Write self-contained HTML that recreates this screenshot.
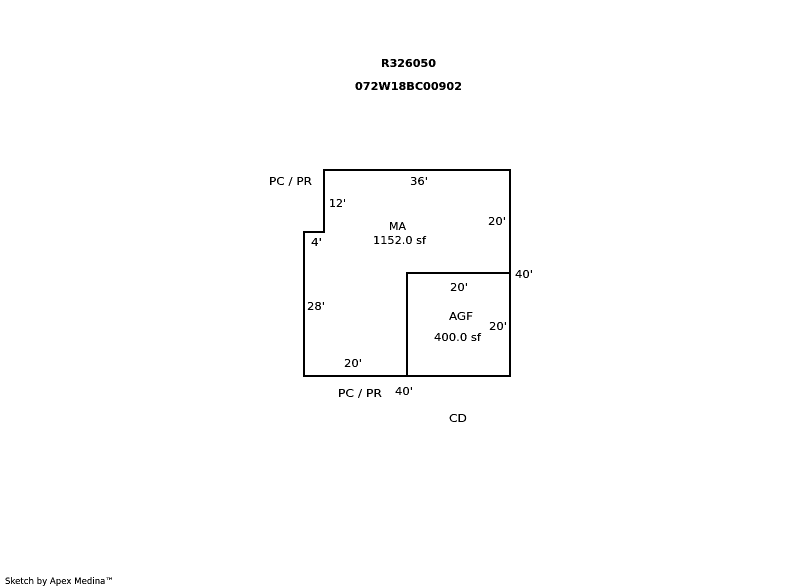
<!DOCTYPE html>
<html>
<head>
<meta charset="utf-8">
<style>
html,body{margin:0;padding:0;background:#fff;width:800px;height:587px;overflow:hidden}
svg{display:block}
text{font-family:"DejaVu Sans","Liberation Sans",sans-serif;font-size:11px;fill:#000}
.b{font-weight:bold}
.f{font-size:9px}
</style>
</head>
<body>
<svg width="800" height="587" viewBox="0 0 800 587" xmlns="http://www.w3.org/2000/svg">
<defs>
<filter id="crisp" x="0" y="0" width="800" height="587" filterUnits="userSpaceOnUse" color-interpolation-filters="sRGB">
<feComponentTransfer><feFuncA type="linear" slope="2.4" intercept="-0.35"/></feComponentTransfer>
</filter>
</defs>
<path d="M324 170H510V376H304V232H324Z" fill="none" stroke="#000" stroke-width="2"/>
<path d="M407 376V273H510" fill="none" stroke="#000" stroke-width="2"/>
<g filter="url(#crisp)">
<text class="b" x="381" y="67" textLength="55" lengthAdjust="spacingAndGlyphs">R326050</text>
<text class="b" x="355" y="90" textLength="107" lengthAdjust="spacingAndGlyphs">072W18BC00902</text>
<text x="269" y="185" textLength="43" lengthAdjust="spacingAndGlyphs">PC / PR</text>
<text x="410" y="185" textLength="18" lengthAdjust="spacingAndGlyphs">36'</text>
<text x="329" y="207" textLength="17" lengthAdjust="spacingAndGlyphs">12'</text>
<text x="488" y="225" textLength="18" lengthAdjust="spacingAndGlyphs">20'</text>
<text x="389" y="230" textLength="17" lengthAdjust="spacingAndGlyphs">MA</text>
<text x="373" y="244" textLength="53" lengthAdjust="spacingAndGlyphs">1152.0 sf</text>
<text x="311" y="246" textLength="11" lengthAdjust="spacingAndGlyphs">4'</text>
<text x="515" y="278" textLength="18" lengthAdjust="spacingAndGlyphs">40'</text>
<text x="450" y="291" textLength="18" lengthAdjust="spacingAndGlyphs">20'</text>
<text x="307" y="310" textLength="18" lengthAdjust="spacingAndGlyphs">28'</text>
<text x="449" y="320" textLength="24" lengthAdjust="spacingAndGlyphs">AGF</text>
<text x="489" y="330" textLength="18" lengthAdjust="spacingAndGlyphs">20'</text>
<text x="434" y="341" textLength="47" lengthAdjust="spacingAndGlyphs">400.0 sf</text>
<text x="344" y="367" textLength="18" lengthAdjust="spacingAndGlyphs">20'</text>
<text x="395" y="395" textLength="18" lengthAdjust="spacingAndGlyphs">40'</text>
<text x="338" y="397" textLength="44" lengthAdjust="spacingAndGlyphs">PC / PR</text>
<text x="449" y="422" textLength="18" lengthAdjust="spacingAndGlyphs">CD</text>
<text class="f" x="5" y="584" textLength="109" lengthAdjust="spacingAndGlyphs">Sketch by Apex Medina™</text>
</g>
</svg>
</body>
</html>
